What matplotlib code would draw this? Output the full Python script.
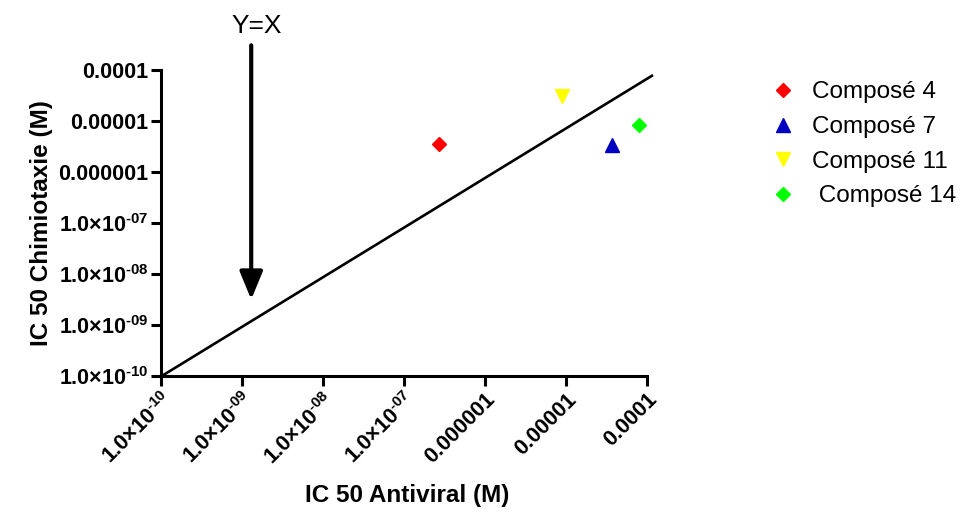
import matplotlib
matplotlib.use("Agg")
import matplotlib.pyplot as plt
from matplotlib.ticker import FixedLocator, FixedFormatter, NullLocator

plt.rcParams["font.family"] = ["Liberation Sans", "DejaVu Sans"]
plt.rcParams["mathtext.fontset"] = "custom"
plt.rcParams["mathtext.rm"] = "Liberation Sans"
plt.rcParams["mathtext.bf"] = "Liberation Sans:bold"

# data
compounds = ["Composé 4", "Composé 7", "Composé 11", " Composé 14"]
ic50_antiviral = [2.7e-7, 3.7e-5, 8.9e-6, 8.0e-5]
ic50_chimio = [3.5e-6, 3.3e-6, 3.1e-5, 8.1e-6]
markers = ["D", "^", "v", "D"]
colors = ["#FF0000", "#0000C0", "#FFFF00", "#00FF00"]

line_x = [1e-10, 1.15e-4]
line_y = [1e-10, 7.6e-5]

ticks = [1e-10, 1e-9, 1e-8, 1e-7, 1e-6, 1e-5, 1e-4]
tick_labels = [r"$\mathbf{1.0{\times}10^{‐10}}$", r"$\mathbf{1.0{\times}10^{‐09}}$",
               r"$\mathbf{1.0{\times}10^{‐08}}$", r"$\mathbf{1.0{\times}10^{‐07}}$",
               "0.000001", "0.00001", "0.0001"]

fig = plt.figure(figsize=(9.64, 5.2), dpi=100)
ax = fig.add_axes([0.167, 0.276, 0.5108, 0.59])

ax.plot(line_x, line_y, color="black", lw=1.9, clip_on=False, zorder=2)
handles = []
for name, x, y, m, c in zip(compounds, ic50_antiviral, ic50_chimio, markers, colors):
    ms = 7 if m == "D" else 9.5
    h, = ax.plot([x], [y], ls="none", marker=m, color=c, ms=ms, mec=c, label=name, zorder=3)
    handles.append(h)

ax.set_xscale("log")
ax.set_yscale("log")
ax.set_xlim(1e-10, 1.2e-4)
ax.set_ylim(1e-10, 1e-4)

for axis in (ax.xaxis, ax.yaxis):
    axis.set_major_locator(FixedLocator(ticks))
    axis.set_major_formatter(FixedFormatter(tick_labels))
    axis.set_minor_locator(NullLocator())

for lbl in ax.get_yticklabels():
    lbl.set_fontweight("bold")
for lbl in ax.get_xticklabels():
    lbl.set_fontweight("bold")
    lbl.set_rotation(45)
    lbl.set_ha("right")
    lbl.set_rotation_mode("anchor")

ax.tick_params(axis="both", which="major", direction="out", length=7, width=2.2,
               labelsize=15.5, pad=2)

ax.spines["top"].set_visible(False)
ax.spines["right"].set_visible(False)
ax.spines["left"].set_linewidth(2.2)
ax.spines["bottom"].set_linewidth(2.2)
ax.spines["bottom"].set_bounds(1e-10, 1e-4)

ax.set_xlabel("IC 50 Antiviral (M)", fontsize=17.5, fontweight="bold", labelpad=11)
ax.set_ylabel("IC 50 Chimiotaxie (M)", fontsize=17.5, fontweight="bold", labelpad=4)

ax.annotate("", xy=(1.3e-9, 3.2e-9), xytext=(1.3e-9, 3.0e-4),
            arrowprops=dict(arrowstyle="-|>,head_length=1.7,head_width=0.7",
                            lw=3, color="black", shrinkA=0, shrinkB=0),
            annotation_clip=False)
ax.text(1.5e-9, 7e-4, "Y=X", fontsize=19, ha="center", va="center", clip_on=False)

fig.legend(handles=handles, loc="upper left", bbox_to_anchor=(0.787, 0.862),
           frameon=False, fontsize=17.5, handlelength=1.2, handletextpad=0.6,
           labelspacing=0.52, borderaxespad=0)

fig.savefig("out.png", dpi=100)
